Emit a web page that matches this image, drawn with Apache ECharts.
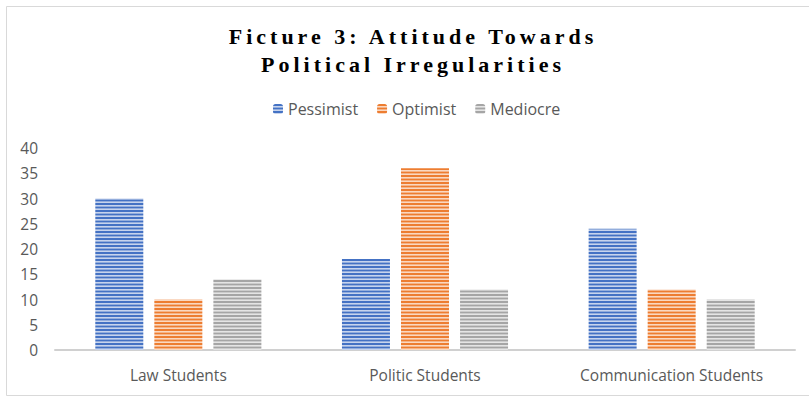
<!DOCTYPE html>
<html><head><meta charset="utf-8">
<script src="https://cdn.jsdelivr.net/npm/echarts@6/dist/echarts.min.js"></script>
<style>html,body{margin:0;padding:0;background:#fff}#c{width:809px;height:398px}
#c svg text[style*="Liberation Serif"]{letter-spacing:4px}</style>
</head><body><div id="c"></div>
<script>
const categories = ['Law Students', 'Politic Students', 'Communication Students'];
const pessimist = [30, 18, 24];
const optimist = [10, 36, 12];
const mediocre = [14, 12, 10];
const yTicks = [0, 5, 10, 15, 20, 25, 30, 35, 40];
const titleText = 'Ficture 3: Attitude Towards\nPolitical Irregularities';

function stripe(col) {
  const c = document.createElement('canvas');
  c.width = 4; c.height = 7;
  const g = c.getContext('2d');
  g.fillStyle = '#ffffff'; g.fillRect(0, 0, 4, 7);
  g.fillStyle = col;
  g.fillRect(0, 0, 4, 2); g.fillRect(0, 3.5, 4, 2);
  g.globalAlpha = 0.3; g.fillRect(0, 2, 4, 1.5); g.fillRect(0, 5.5, 4, 1.5);
  return { image: c, repeat: 'repeat' };
}
const colors = ['#4472c4', '#ed7d31', '#a5a5a5'];
const chart = echarts.init(document.getElementById('c'), null, { renderer: 'svg' });
const mk = (name, data, i) => ({
  name, type: 'bar', data, barWidth: 48, barGap: '23%',
  itemStyle: { color: stripe(colors[i]) },
});
chart.setOption({
  animation: false,
  legend: {
    top: 96, left: 268, itemWidth: 10, itemHeight: 10, itemGap: 19,
    textStyle: { fontFamily: 'Open Sans', fontSize: 16, color: '#595959' },
    data: ['Pessimist', 'Optimist', 'Mediocre']
  },
  grid: { left: 55, right: 14, top: 148, bottom: 48, containLabel: false },
  xAxis: {
    type: 'category', data: categories,
    axisLine: { lineStyle: { color: '#d0d0d0', width: 2 } },
    axisTick: { show: false },
    axisLabel: { fontFamily: 'Open Sans', fontSize: 15.5, color: '#595959', margin: 17 }
  },
  yAxis: {
    type: 'value', min: yTicks[0], max: yTicks[yTicks.length - 1], interval: 5,
    splitLine: { show: false }, axisLine: { show: false }, axisTick: { show: false },
    axisLabel: { fontFamily: 'Open Sans', fontSize: 15.5, color: '#595959', margin: 17 }
  },
  graphic: [
    { type: 'rect', shape: { x: 6.5, y: 6.5, width: 900, height: 389 }, style: { fill: 'none', stroke: '#d9d9d9', lineWidth: 1 }, silent: true },
    { type: 'text', x: 413, y: 22, silent: true,
      style: { text: titleText, align: 'center', verticalAlign: 'top', lineHeight: 28,
        fontFamily: 'Liberation Serif', fontWeight: 'bold', fontSize: 22, fill: '#000' } }
  ],
  series: [mk('Pessimist', pessimist, 0), mk('Optimist', optimist, 1), mk('Mediocre', mediocre, 2)]
});
</script></body></html>
